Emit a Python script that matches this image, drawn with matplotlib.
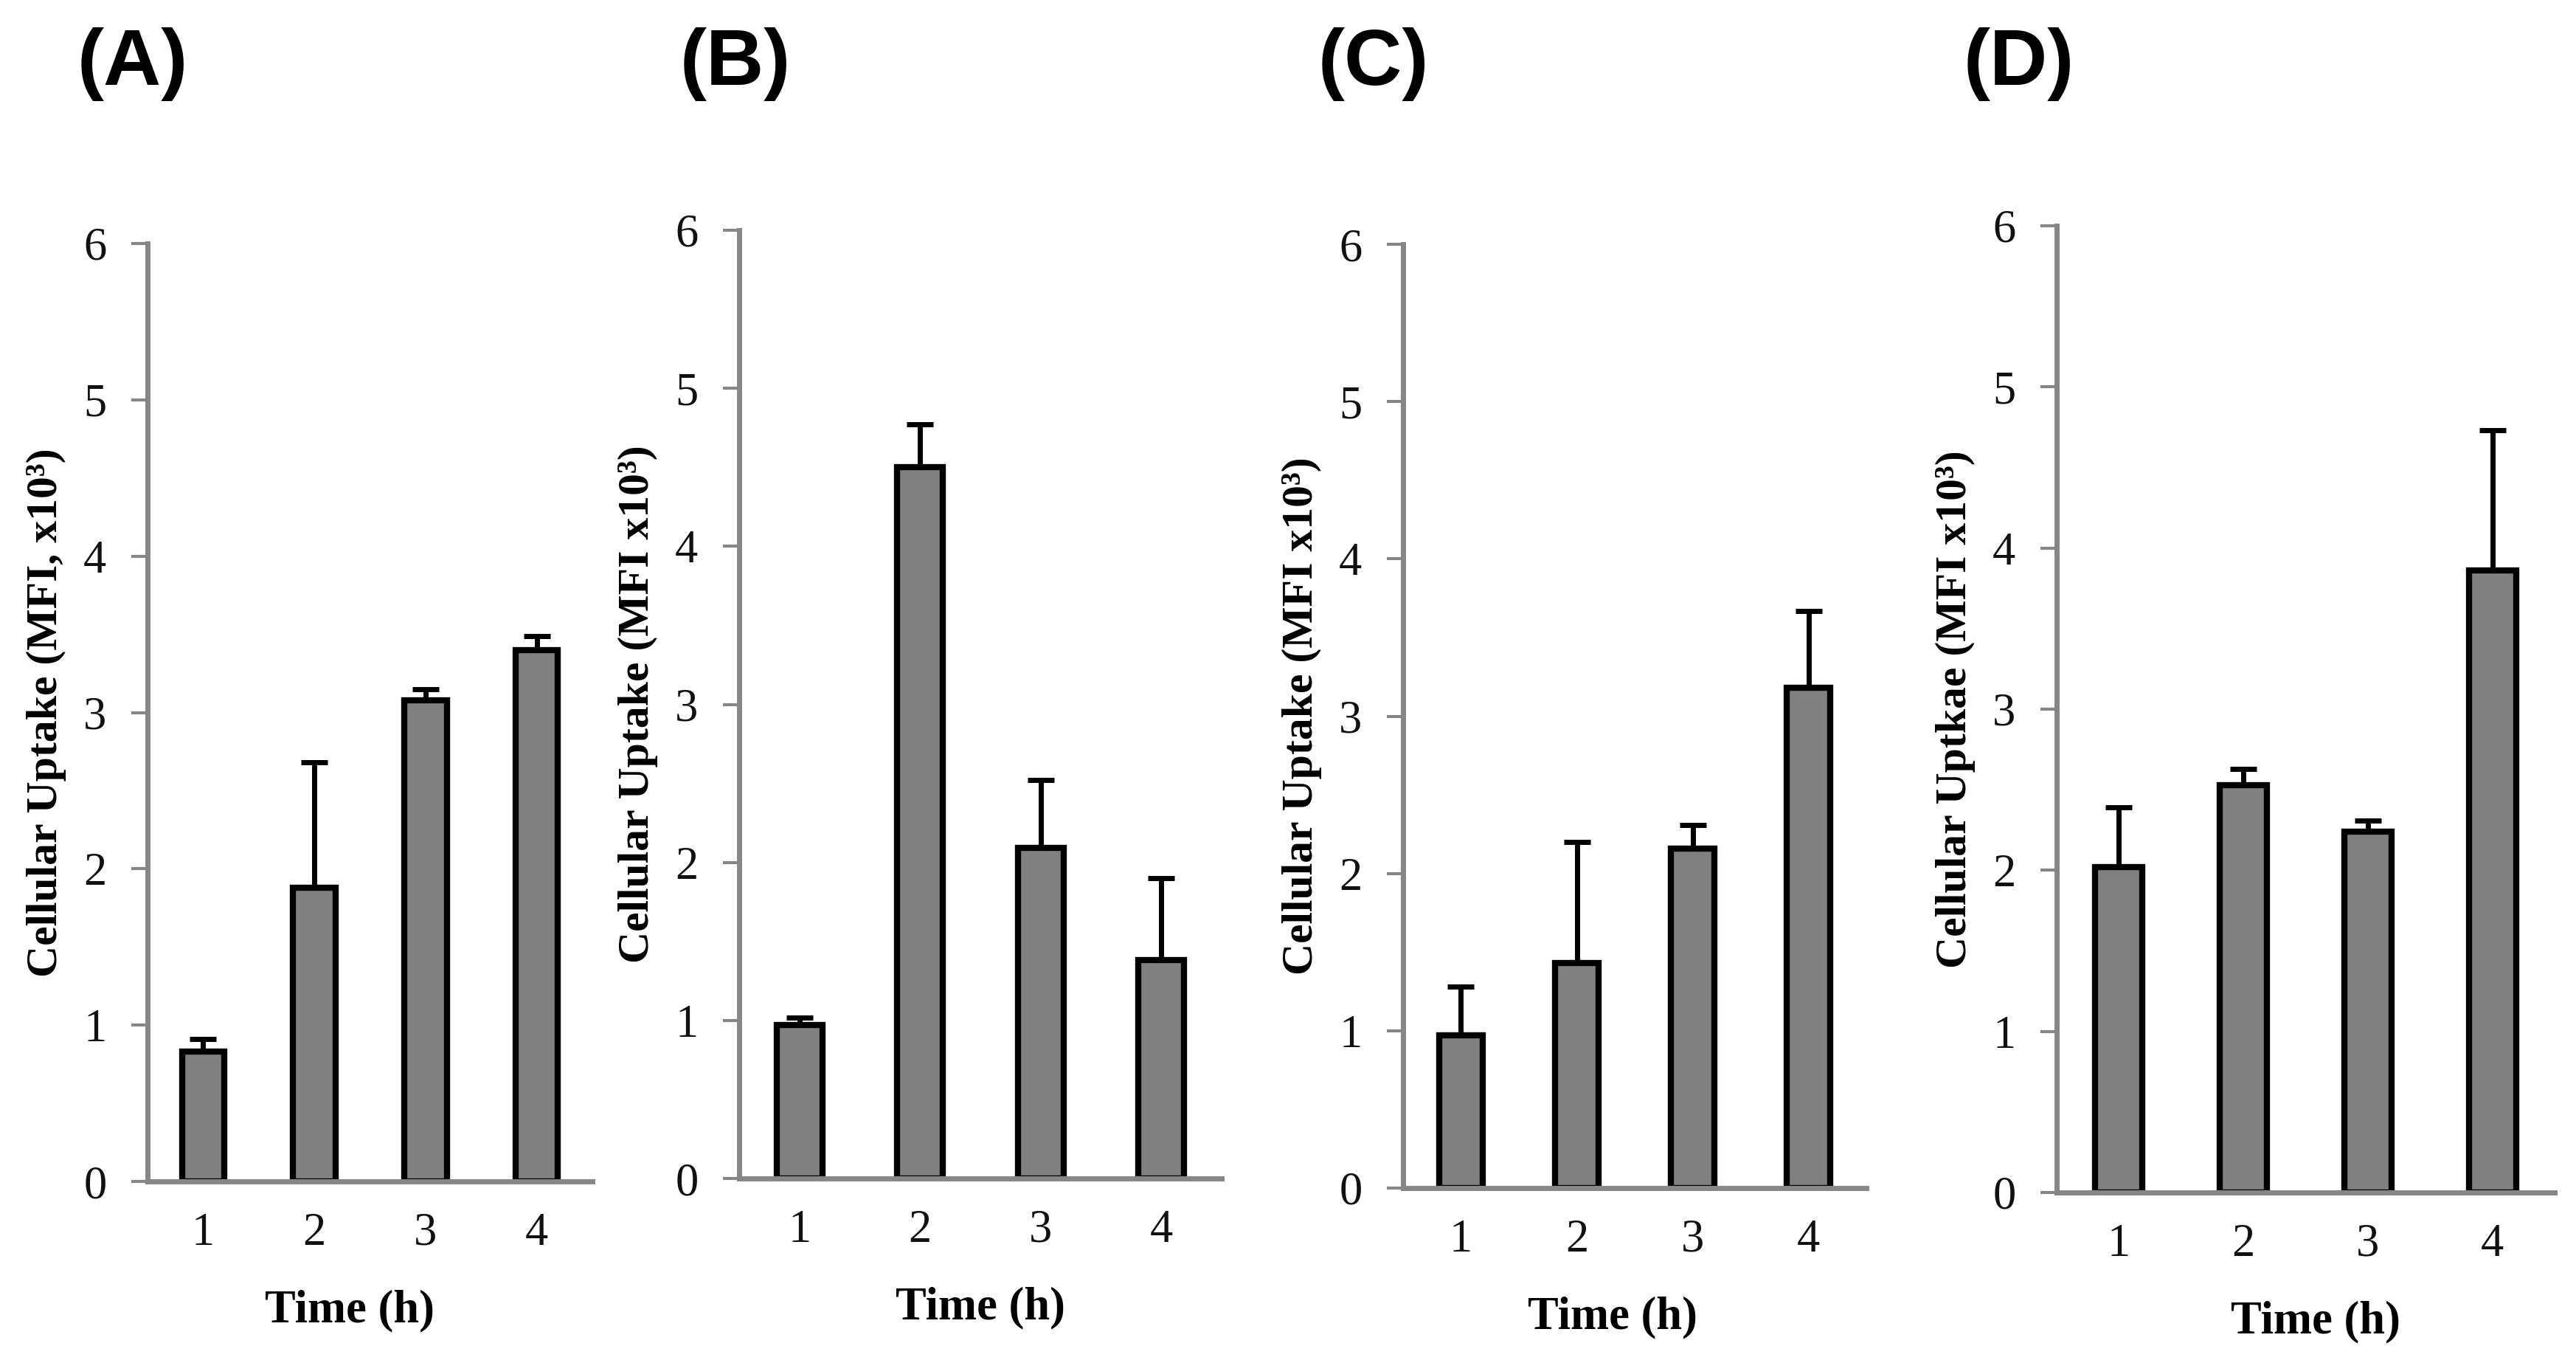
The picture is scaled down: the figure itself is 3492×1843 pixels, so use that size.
import matplotlib
matplotlib.use("Agg")
import matplotlib.pyplot as plt
import numpy as np

# incubation time (h)
TIME_H = [1, 2, 3, 4]

# mean cellular uptake (MFI x10^3) and upper error, one pair per panel
UPTAKE_A = [0.83, 1.88, 3.08, 3.40]
ERR_A    = [0.08, 0.80, 0.07, 0.09]

UPTAKE_B = [0.97, 4.50, 2.09, 1.38]
ERR_B    = [0.05, 0.27, 0.43, 0.52]

UPTAKE_C = [0.97, 1.43, 2.16, 3.18]
ERR_C    = [0.31, 0.77, 0.15, 0.49]

UPTAKE_D = [2.02, 2.53, 2.24, 3.86]
ERR_D    = [0.37, 0.10, 0.07, 0.87]

PANEL_TAGS = ["(A)", "(B)", "(C)", "(D)"]
Y_LABELS = [
    "Cellular Uptake (MFI, x10³)",
    "Cellular Uptake (MFI x10³)",
    "Cellular Uptake (MFI x10³)",
    "Cellular Uptkae (MFI x10³)",
]
X_LABEL = "Time (h)"
Y_TICKS = [0, 1, 2, 3, 4, 5, 6]

# layout, in pixels of the 3492 x 1843 canvas
W, H = 3492, 1843
BOXES = [  # left, right, top, bottom of each plot area
    (200, 803, 330, 1601),
    (1002, 1656, 312, 1597),
    (1902, 2530, 331, 1610),
    (2788, 3463, 306, 1616),
]
TAG_X = [105, 922, 1787, 2662]
XLABEL_X = [0.454, 0.50, 0.453, 0.52]

AXIS_GREY = "#868686"
BAR_GREY = "#808080"
SERIF = ["Liberation Serif", "DejaVu Serif"]


def draw_panel(fig, box, tag_x, tag, ylabel, xlabel_x, values, errs):
    left, right, top, bottom = box
    w_px, h_px = right - left, bottom - top
    ax = fig.add_axes([left / W, 1 - bottom / H, w_px / W, h_px / H])

    ax.bar(TIME_H, values, width=0.38, color=BAR_GREY, edgecolor="black",
           linewidth=6, zorder=2)
    lower = np.zeros(len(values))
    ax.errorbar(TIME_H, values, yerr=[lower, errs], fmt="none", ecolor="black",
                elinewidth=5, capsize=13, capthick=5, zorder=3)

    ax.set_xlim(0.5, 4.5)
    ax.set_ylim(0, 6)
    ax.set_xticks(TIME_H)
    ax.set_yticks(Y_TICKS)

    for side in ("top", "right"):
        ax.spines[side].set_visible(False)
    for side in ("left", "bottom"):
        ax.spines[side].set_color(AXIS_GREY)
        ax.spines[side].set_linewidth(5)
        ax.spines[side].set_zorder(4)

    ax.tick_params(axis="y", length=16, width=3, color=AXIS_GREY, pad=24,
                   labelsize=45, labelcolor="#111111")
    ax.tick_params(axis="x", length=0, pad=30, labelsize=45,
                   labelcolor="#111111")
    for lbl in ax.get_xticklabels() + ax.get_yticklabels():
        lbl.set_family(SERIF)

    ax.set_ylabel(ylabel, family=SERIF, fontweight="bold", fontsize=43)
    ax.yaxis.set_label_coords(-110 / w_px, 0.5)
    ax.set_xlabel(X_LABEL, family=SERIF, fontweight="bold", fontsize=45)
    ax.xaxis.set_label_coords(xlabel_x, -146 / h_px)

    fig.text(tag_x / W, 1 - 115 / H, tag, family=["Liberation Sans", "DejaVu Sans"],
             fontweight="bold", fontsize=78, ha="left", va="baseline")
    return ax


def main():
    fig = plt.figure(figsize=(W / 100, H / 100), dpi=100)
    fig.patch.set_facecolor("white")

    series = [(UPTAKE_A, ERR_A), (UPTAKE_B, ERR_B), (UPTAKE_C, ERR_C), (UPTAKE_D, ERR_D)]
    for i, (vals, errs) in enumerate(series):
        draw_panel(fig, BOXES[i], TAG_X[i], PANEL_TAGS[i], Y_LABELS[i],
                   XLABEL_X[i], vals, errs)

    fig.savefig("out.png", dpi=100, facecolor="white")
    plt.close(fig)


if __name__ == "__main__":
    main()
